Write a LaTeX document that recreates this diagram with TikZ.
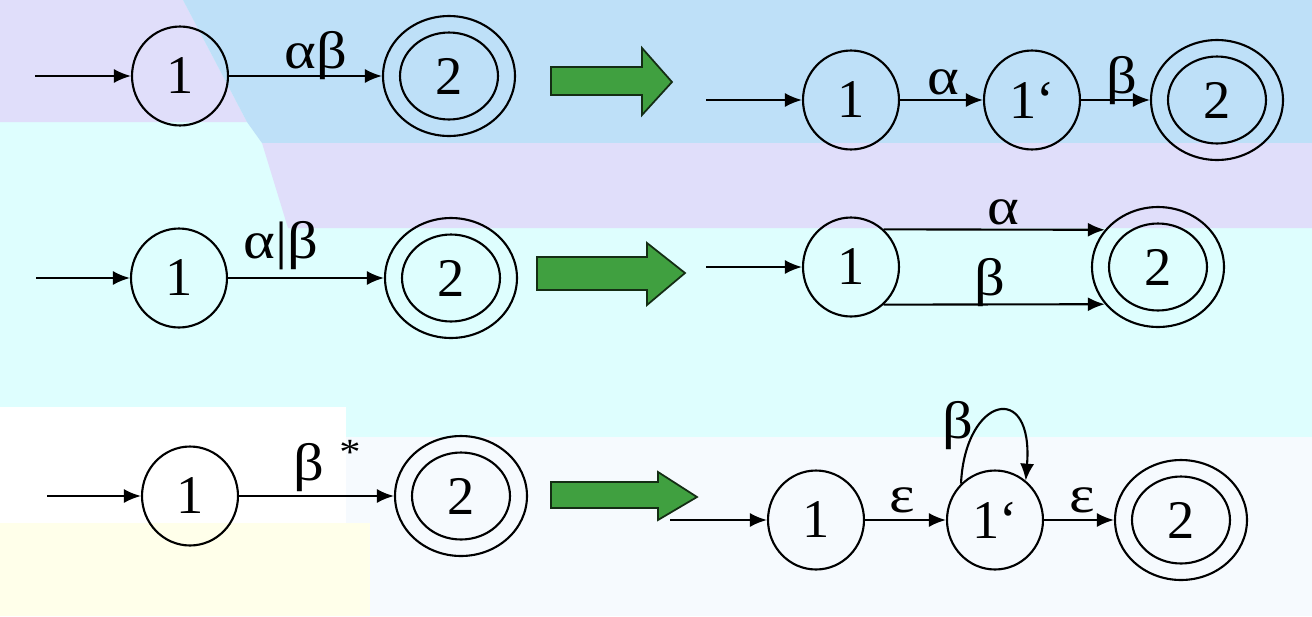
\documentclass[tikz,border=0pt]{standalone}
\usepackage{fontspec}
\setmainfont{Liberation Serif}
\newfontfamily\lblfont[FakeStretch=1.15]{Liberation Serif}
\usetikzlibrary{arrows.meta,shapes.geometric}

\definecolor{bgblue}{RGB}{190,224,248}
\definecolor{bglav}{RGB}{224,222,250}
\definecolor{bgcyan}{RGB}{222,254,254}
\definecolor{bgoff}{RGB}{246,250,254}
\definecolor{bgyellow}{RGB}{255,255,234}
\definecolor{arrowgreen}{RGB}{64,160,64}
\definecolor{arrowdark}{RGB}{20,45,20}

\tikzset{
  state/.style={ellipse, draw, line width=1.2pt, minimum width=1.92cm, minimum height=1.98cm,
    inner sep=0pt, font=\fontsize{31}{36}\selectfont},
  accept/.style={state, minimum width=2.64cm, minimum height=2.4cm,
    path picture={\draw[line width=1.2pt] (path picture bounding box.center) ellipse [x radius=0.98cm, y radius=0.87cm];}},
  lbl/.style={anchor=base, inner sep=0pt, font=\lblfont\fontsize{30}{34}\selectfont},
  fatarrow/.style={fill=arrowgreen, draw=arrowdark, line width=1pt}
}

\begin{document}
\begin{tikzpicture}[x=0.02cm, y=-0.02cm, >={Latex[length=0.34cm,width=0.28cm]}]
  \useasboundingbox (0,0) rectangle (1312,616);
  % background bands
  \fill[bgoff] (0,0) rectangle (1312,616);
  \fill[bgcyan] (0,0) rectangle (1312,437);
  \fill[white] (0,407) rectangle (346,523);
  \fill[bgyellow] (0,523) rectangle (370,616);
  \fill[bglav] (0,0) -- (183,0) -- (247,122) -- (0,122) -- cycle;
  \fill[bgblue] (183,0) -- (1312,0) -- (1312,143) -- (262,143) -- (247,122) -- cycle;
  \fill[bglav] (262,143) -- (1312,143) -- (1312,228) -- (288,228) -- cycle;

  % green arrows
  \foreach \xa/\ya/\yb/\xh/\yc/\yd/\xt/\yt in
    {551/67/95/642/48/115/672/82, 537/257/290/647/243/305/685/273, 551/482/508/658/472/520/697/497}
    \draw[fatarrow] (\xa,\ya) -- (\xh,\ya) -- (\xh,\yc) -- (\xt,\yt) -- (\xh,\yd) -- (\xh,\yb) -- (\xa,\yb) -- cycle;

  % alpha beta
  \coordinate (l1-0) at (35,76);
  \node[state] (l1-1) at (180,76) {1};
  \node[accept] (l1-2) at (449,76) {2};
  \coordinate (r1-0) at (706,100);
  \node[state] (r1-1) at (851,100) {1};
  \node[state] (r1-2) at (1032,100) {1‘};
  \node[accept] (r1-3) at (1217,100) {2};

  % alpha | beta
  \coordinate (l2-0) at (36,278);
  \node[state] (l2-1) at (179,278) {1};
  \node[accept] (l2-2) at (451,278) {2};
  \coordinate (r2-0) at (706,267);
  \node[state] (r2-1) at (851,267) {1};
  \node[accept] (r2-2) at (1158,267) {2};

  % beta *
  \coordinate (l3-0) at (47,496);
  \node[state] (l3-1) at (190,496) {1};
  \node[accept] (l3-2) at (461,496) {2};
  \coordinate (r3-0) at (670,520);
  \node[state] (r3-1) at (816,520) {1};
  \node[state] (r3-2) at (995,520) {1‘};
  \node[accept] (r3-3) at (1181,520) {2};

  \path[->, line width=1.2pt]
  (l1-0) edge (l1-1)
  (l1-1) edge node[lbl, pos=0.57, yshift=0.16cm] {αβ} (l1-2)
  (r1-0) edge (r1-1)
  (r1-1) edge node[lbl, pos=0.52, yshift=0.12cm] {α} (r1-2)
  (r1-2) edge node[lbl, pos=0.6, yshift=0.14cm] {β} (r1-3)
  (l2-0) edge (l2-1)
  (l2-1) edge node[lbl, pos=0.34, yshift=0.4cm] {α|β} (l2-2)
  (r2-0) edge (r2-1)
  (r2-1.49) edge node[lbl, pos=0.54, yshift=0.1cm] {α} (r2-2.145)
  (r2-1.-49) edge node[lbl, pos=0.48, yshift=0.18cm] {β} (r2-2.-145)
  (l3-0) edge (l3-1)
  (l3-1) edge node[lbl, pos=0.57, yshift=0.32cm] {β \textsuperscript{*}} (l3-2)
  (r3-0) edge (r3-1)
  (r3-1) edge node[lbl, pos=0.46, yshift=0.16cm] {ε} (r3-2)
  (r3-2) edge node[lbl, pos=0.55, yshift=0.16cm] {ε} (r3-3)
  ;
  \draw[->, line width=1.2pt] (r3-2.133) .. controls +(4,-87) and +(8,-101) .. (r3-2.52)
    node[lbl, pos=0.3, anchor=east, inner sep=2pt] {β};
\end{tikzpicture}
\end{document}
